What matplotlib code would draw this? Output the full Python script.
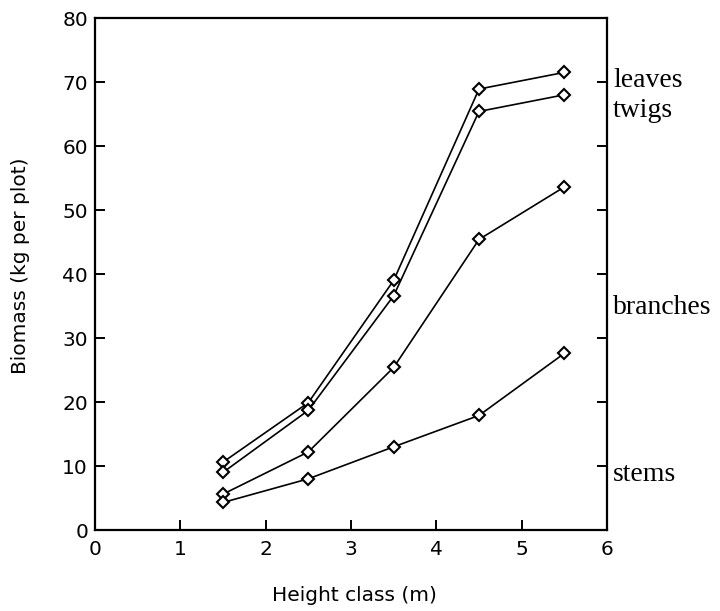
import matplotlib
matplotlib.use("Agg")
import matplotlib.pyplot as plt

# Biomass per height class, one list per plant part
height_class = [1.5, 2.5, 3.5, 4.5, 5.5]
leaves = [10.6, 19.9, 39.0, 68.9, 71.5]
twigs = [9.0, 18.7, 36.6, 65.4, 68.0]
branches = [5.6, 12.2, 25.4, 45.4, 53.6]
stems = [4.3, 8.0, 13.0, 17.9, 27.6]

part_names = ["leaves", "twigs", "branches", "stems"]
label_y = [69.2, 64.6, 33.7, 7.6]   # baseline heights of the part names on the right

fig = plt.figure(figsize=(7.2, 6.11), dpi=100)
ax = fig.add_axes([95 / 720, 81 / 611, 512 / 720, 512 / 611])

for series in (leaves, twigs, branches, stems):
    ax.plot(height_class, series, color="black", lw=1.2,
            marker="D", ms=6.3, mfc="white", mec="black", mew=1.5)

for name, y in zip(part_names, label_y):
    ax.text(6.07, y, name, family="Liberation Serif", fontsize=20,
            va="baseline", ha="left", clip_on=False)

ax.set_xlim(0, 6)
ax.set_ylim(0, 80)
ax.set_xticks(range(0, 7))
ax.set_yticks(range(0, 90, 10))

for side in ax.spines.values():
    side.set_linewidth(1.6)

ax.tick_params(direction="in", length=7.5, width=1.4, top=False, right=True,
               labelsize=14.5)
ax.tick_params(axis="x", pad=7)
ax.tick_params(axis="y", pad=5)
for lab in ax.get_xticklabels() + ax.get_yticklabels():
    lab.set_family("DejaVu Sans")

ax.set_xlabel("Height class (m)", family="DejaVu Sans", fontsize=14.5, va="center")
ax.set_ylabel("Biomass (kg per plot)", family="DejaVu Sans", fontsize=14.5, va="center")
ax.xaxis.set_label_coords(0.507, -0.127)
ax.yaxis.set_label_coords(-0.145, 0.517)

fig.savefig("out.png", dpi=100)
